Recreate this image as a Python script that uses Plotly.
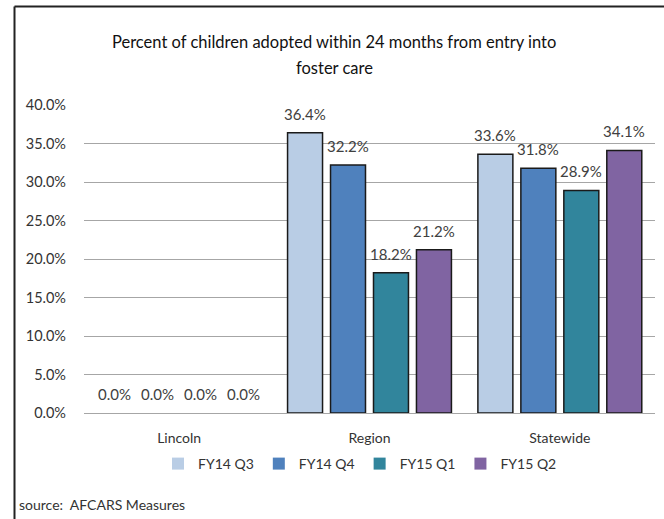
import plotly.graph_objects as go

categories = ["Lincoln", "Region", "Statewide"]
series_names = ["FY14 Q3", "FY14 Q4", "FY15 Q1", "FY15 Q2"]
fy14_q3 = [0.0, 36.4, 33.6]
fy14_q4 = [0.0, 32.2, 31.8]
fy15_q1 = [0.0, 18.2, 28.9]
fy15_q2 = [0.0, 21.2, 34.1]
y_ticks = [0, 5, 10, 15, 20, 25, 30, 35, 40]
y_tick_labels = ["0.0%", "5.0%", "10.0%", "15.0%", "20.0%", "25.0%", "30.0%", "35.0%", "40.0%"]
title_lines = ["Percent of children adopted within 24 months from entry into", "foster care"]
source_text = "source:  AFCARS Measures"

colors = ["#B9CDE5", "#4F81BD", "#31859C", "#8064A2"]
values = [fy14_q3, fy14_q4, fy15_q1, fy15_q2]

W, H = 664, 519
ML, MR, MT, MB = 84, 9, 105, 106
FONT = "Lato"
BARGAP = 0.097
pw = W - ML - MR
ph = H - MT - MB
slot_px = pw / len(categories) * (1 - BARGAP) / len(series_names)


def px_x(p):
    return (p - ML) / pw


def px_y(p):
    return (H - MB - p) / ph


fig = go.Figure()
annotations = []
for i, (name, vals, col) in enumerate(zip(series_names, values, colors)):
    fig.add_trace(go.Bar(
        x=categories, y=vals, name=name,
        marker=dict(color=col,
                    line=dict(color="#1a1a1a", width=[1.5 if v > 0 else 0 for v in vals])),
    ))
    for c, v in zip(categories, vals):
        annotations.append(dict(
            x=c, y=v, xref="x", yref="y", text=f"{v:.1f}%", showarrow=False,
            xanchor="center", yanchor="middle",
            xshift=(i - (len(series_names) - 1) / 2) * slot_px, yshift=19,
            font=dict(family=FONT, size=15, color="#404040"),
        ))

annotations.append(dict(text=title_lines[0], xref="paper", yref="paper",
                        x=px_x(334), y=px_y(42), xanchor="center", yanchor="middle",
                        showarrow=False, font=dict(family=FONT, size=16.5, color="#111111")))
annotations.append(dict(text=title_lines[1], xref="paper", yref="paper",
                        x=px_x(334), y=px_y(68), xanchor="center", yanchor="middle",
                        showarrow=False, font=dict(family=FONT, size=16.5, color="#111111")))
annotations.append(dict(text=source_text, xref="paper", yref="paper",
                        x=px_x(17), y=px_y(504), xanchor="left", yanchor="middle",
                        showarrow=False, font=dict(family=FONT, size=14, color="#333333")))

fig.update_layout(
    width=W, height=H,
    margin=dict(l=ML, r=MR, t=MT, b=MB),
    paper_bgcolor="white", plot_bgcolor="white",
    barmode="group", bargap=BARGAP, bargroupgap=0.186,
    font=dict(family=FONT, size=13, color="#333333"),
    xaxis=dict(showline=False, ticks="", ticklabelstandoff=15,
               tickfont=dict(family=FONT, size=14, color="#333333")),
    yaxis=dict(range=[0, 40], tickvals=y_ticks, ticktext=y_tick_labels,
               showgrid=True, gridcolor="#a6a6a6", gridwidth=1,
               zeroline=True, zerolinecolor="#a6a6a6", zerolinewidth=1,
               showline=False, ticks="", ticklabelstandoff=17,
               tickfont=dict(family=FONT, size=14.5, color="#333333")),
    legend=dict(orientation="h", x=px_x(158), xanchor="left", y=px_y(464), yanchor="middle",
                font=dict(family=FONT, size=14, color="#333333"),
                itemwidth=30, traceorder="normal"),
    shapes=[
        dict(type="line", xref="paper", yref="paper",
             x0=px_x(14.5), x1=px_x(664), y0=px_y(6.5), y1=px_y(6.5),
             line=dict(color="#222222", width=2)),
        dict(type="line", xref="paper", yref="paper",
             x0=px_x(14.5), x1=px_x(14.5), y0=px_y(6.5), y1=px_y(519),
             line=dict(color="#222222", width=2)),
    ],
    annotations=annotations,
)

fig.write_html("out.html", config={"displayModeBar": False},
               post_script="document.body.style.margin='0';")
